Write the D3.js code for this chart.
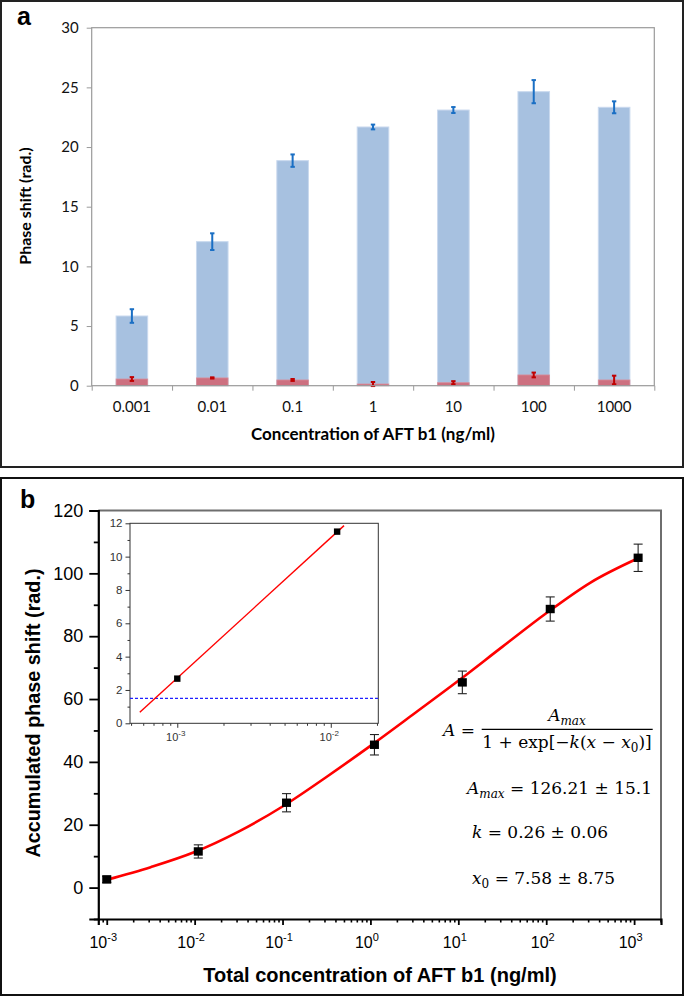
<!DOCTYPE html>
<html><head><meta charset="utf-8">
<script src="https://cdn.jsdelivr.net/npm/d3@7"></script>
<style>body{margin:0;background:#fff}svg{display:block}</style>
</head><body><svg id="c" width="685" height="997"></svg>
<script>
// ---------- Panel a data ----------
const concLabels = ["0.001","0.01","0.1","1","10","100","1000"];
const blueValues = [5.84, 12.07, 18.86, 21.68, 23.1, 24.64, 23.33];
const blueErrors = [0.57, 0.7, 0.52, 0.2, 0.25, 0.97, 0.5];
const redValues  = [0.56, 0.65, 0.48, 0.14, 0.25, 0.9, 0.48];
const redErrors  = [0.16, 0.05, 0.08, 0.17, 0.13, 0.2, 0.36];
const aYTicks = [0,5,10,15,20,25,30];

// ---------- Panel b data ----------
const totalConc  = [0.001, 0.011, 0.111, 1.111, 11.11, 111.1, 1111.1];
const accumShift = [2.6, 11.5, 27.0, 45.45, 65.3, 88.65, 104.95];
const accumErr   = [1.0, 2.1, 2.9, 3.25, 3.6, 3.85, 4.35];
const fitConc  = [0.001, 0.00316, 0.01, 0.0316, 0.1, 0.316, 1, 3.16, 10, 31.6, 100, 316, 1110];
const fitShift = [2.5, 6.5, 11.3, 17.8, 25.8, 35.2, 45.1, 55.4, 65.8, 76.6, 87.3, 97.0, 104.8];
const bYTicks = [0,20,40,60,80,100,120];
const bXTicks = [1e-3,1e-2,1e-1,1,10,100,1000];
const bXExp   = ["-3","-2","-1","0","1","2","3"];

// ---------- Inset data ----------
const insetConc  = [0.001, 0.011];
const insetShift = [2.68, 11.5];
const insetLineConc  = [0.00057, 0.0122];
const insetLineShift = [0.66, 11.86];
const insetThreshold = 1.5;
const insetYTicks = [0,2,4,6,8,10,12];
const insetXTicks = [1e-3, 1e-2];
const insetXExp = ["-3","-2"];

const svg = d3.select("#c");

// panel borders
svg.append("rect").attr("x",1).attr("y",1).attr("width",682).attr("height",466)
  .attr("fill","none").attr("stroke","#222").attr("stroke-width",2);
svg.append("rect").attr("x",1).attr("y",478).attr("width",682).attr("height",517)
  .attr("fill","none").attr("stroke","#111").attr("stroke-width",2);

// ================= PANEL A =================
const fa = "Lato, 'Open Sans', sans-serif";
const aL = 91.7, aR = 654.3, aT = 27.7, aB = 385.7;
const xA = d3.scaleBand().domain(concLabels).range([aL,aR]).paddingInner(0.607).paddingOuter(0.3035);
const yA = d3.scaleLinear().domain([0,30]).range([aB,aT]);
const gA = svg.append("g");

// y axis
const yAxA = gA.append("g").attr("transform",`translate(${aL},0)`)
  .call(d3.axisLeft(yA).tickValues(aYTicks).tickSize(5).tickPadding(8));
yAxA.select(".domain").remove();
yAxA.selectAll("line").attr("stroke","#9a9a9a");
yAxA.selectAll("text").attr("font-family",fa).attr("font-size",15).attr("fill","#111");

// category boundary ticks
const xBound = d3.scaleLinear().domain([0,7]).range([aL,aR]);
const xbAx = gA.append("g").attr("transform",`translate(0,${aB})`)
  .call(d3.axisBottom(xBound).tickValues(d3.range(8)).tickSize(5).tickFormat(""));
xbAx.select(".domain").remove();
xbAx.selectAll("line").attr("stroke","#9a9a9a");

// bars
const blueData = concLabels.map((c,i)=>({c, v:blueValues[i], e:blueErrors[i]}));
const redData  = concLabels.map((c,i)=>({c, v:redValues[i],  e:redErrors[i]}));
gA.selectAll(".bb").data(blueData).join("rect")
  .attr("x",d=>xA(d.c)).attr("width",xA.bandwidth())
  .attr("y",d=>yA(d.v)).attr("height",d=>aB-yA(d.v))
  .attr("fill","#a7c1e0").attr("stroke","#c9d9ee").attr("stroke-width",1);
gA.selectAll(".rb").data(redData).join("rect")
  .attr("x",d=>xA(d.c)).attr("width",xA.bandwidth())
  .attr("y",d=>yA(d.v)).attr("height",d=>aB-yA(d.v))
  .attr("fill","#cd7080").attr("stroke","#d98d99").attr("stroke-width",0.8);

function errBars(g, data, xf, yf, col, cap, sw){
  const eg = g.append("g").attr("stroke",col).attr("stroke-width",sw);
  data.forEach(d=>{
    const x = xf(d), y1 = yf(d.v + d.e), y0 = yf(d.v - d.e);
    eg.append("line").attr("x1",x).attr("x2",x).attr("y1",y1).attr("y2",y0);
    eg.append("line").attr("x1",x-cap).attr("x2",x+cap).attr("y1",y1).attr("y2",y1);
    eg.append("line").attr("x1",x-cap).attr("x2",x+cap).attr("y1",y0).attr("y2",y0);
  });
}
const bandC = d=>xA(d.c)+xA.bandwidth()/2;
errBars(gA, blueData, bandC, yA, "#1a6fc4", 2.2, 2);
errBars(gA, redData, bandC, yA, "#c00000", 2.2, 2);

// frame
gA.append("rect").attr("x",aL).attr("y",aT).attr("width",aR-aL).attr("height",aB-aT)
  .attr("fill","none").attr("stroke","#9a9a9a").attr("stroke-width",1.2);

// x labels
const xLabA = gA.append("g").attr("transform",`translate(0,${aB})`)
  .call(d3.axisBottom(xA).tickSize(0).tickPadding(16));
xLabA.select(".domain").remove();
xLabA.selectAll("text").attr("font-family",fa).attr("font-size",15).attr("fill","#111");

gA.append("text").attr("x",373).attr("y",440).attr("text-anchor","middle")
  .attr("font-family",fa).attr("font-weight","bold").attr("font-size",17)
  .text("Concentration of AFT b1 (ng/ml)");
gA.append("text").attr("transform","translate(31,206) rotate(-90)").attr("text-anchor","middle")
  .attr("font-family",fa).attr("font-weight","bold").attr("font-size",16)
  .text("Phase shift (rad.)");
svg.append("text").attr("x",17).attr("y",25).attr("font-family","'Liberation Sans', Arial, sans-serif")
  .attr("font-weight","bold").attr("font-size",25).text("a");

// ================= PANEL B =================
const fb = "'Liberation Sans', Arial, sans-serif";
const bL = 98.3, bR = 661, bT = 510.5, bB = 919;
const xB = d3.scaleLog().domain([Math.pow(10,-3.096), Math.pow(10,3.306)]).range([bL,bR]);
const yB = d3.scaleLinear().domain([-10,120]).range([bB,bT]);
const gB = svg.append("g");
svg.append("text").attr("x",20).attr("y",508).attr("font-family",fb)
  .attr("font-weight","bold").attr("font-size",25).text("b");

// top/right frame
gB.append("path").attr("d",`M${bL},${bT}H${bR}V${bB}`).attr("fill","none")
  .attr("stroke","#6e6e6e").attr("stroke-width",2);

// minor x ticks
const [dx0,dx1] = xB.domain();
const minorX = [];
for(let e=-4;e<=3;e++) for(let m=2;m<=9;m++){ const v=m*Math.pow(10,e); if(v>=dx0*0.999 && v<=dx1) minorX.push(v); }
const mxAx = gB.append("g").attr("transform",`translate(0,${bB})`)
  .call(d3.axisBottom(xB).tickValues(minorX).tickSize(3.5).tickFormat(""));
mxAx.select(".domain").remove();
mxAx.selectAll("line").attr("stroke","#000").attr("stroke-width",1.6);

// major x
const xAxB = gB.append("g").attr("transform",`translate(0,${bB})`)
  .call(d3.axisBottom(xB).tickValues(bXTicks).tickSize(6).tickFormat(""));
xAxB.select(".domain").attr("stroke","#000").attr("stroke-width",2.2);
xAxB.selectAll("line").attr("stroke","#000").attr("stroke-width",1.8);
xAxB.selectAll(".tick").each(function(d,i){
  const t = d3.select(this).append("text").attr("y",29).attr("x",-4).attr("text-anchor","middle")
    .attr("font-family",fb).attr("font-size",16).attr("fill","#000");
  t.append("tspan").text("10");
  t.append("tspan").attr("dy",-7).attr("font-size",11).text(bXExp[i]);
});

// minor y
const minorY = d3.range(-10,121,10).filter(v=>v%20!==0);
const myAx = gB.append("g").attr("transform",`translate(${bL},0)`)
  .call(d3.axisLeft(yB).tickValues(minorY).tickSize(4.5).tickFormat(""));
myAx.select(".domain").remove();
myAx.selectAll("line").attr("stroke","#000").attr("stroke-width",1.8);
const yAxB = gB.append("g").attr("transform",`translate(${bL},0)`)
  .call(d3.axisLeft(yB).tickValues(bYTicks).tickSize(9).tickPadding(6));
yAxB.select(".domain").attr("stroke","#000").attr("stroke-width",2.2);
yAxB.selectAll("line").attr("stroke","#000").attr("stroke-width",1.8);
yAxB.selectAll("text").attr("font-family",fb).attr("font-size",18).attr("fill","#000");

// fit curve
const fitData = fitConc.map((c,i)=>[c,fitShift[i]]);
gB.append("path").datum(fitData)
  .attr("d",d3.line().x(d=>xB(d[0])).y(d=>yB(d[1])).curve(d3.curveMonotoneX))
  .attr("fill","none").attr("stroke","#ff0000").attr("stroke-width",2.6);

// error bars + markers
const ptData = totalConc.map((c,i)=>({c, v:accumShift[i], e:accumErr[i]}));
errBars(gB, ptData, d=>xB(d.c), yB, "#222", 4.5, 1.1);
gB.selectAll(".pt").data(ptData).join("rect")
  .attr("x",d=>xB(d.c)-4.5).attr("y",d=>yB(d.v)-4.2).attr("width",9).attr("height",8.4)
  .attr("fill","#000");

gB.append("text").attr("x",380).attr("y",982).attr("text-anchor","middle")
  .attr("font-family",fb).attr("font-weight","bold").attr("font-size",20)
  .text("Total concentration of AFT b1 (ng/ml)");
gB.append("text").attr("transform","translate(40,713) rotate(-90)").attr("text-anchor","middle")
  .attr("font-family",fb).attr("font-weight","bold").attr("font-size",19.8)
  .text("Accumulated phase shift (rad.)");

// equation
const fe = "'DejaVu Serif', 'Liberation Serif', serif";
const eq = gB.append("g").attr("font-family",fe).attr("font-size",17).attr("fill","#000");
const t0 = eq.append("text").attr("x",443).attr("y",736);
t0.append("tspan").attr("font-style","italic").text("A");
t0.append("tspan").text(" =");
eq.append("line").attr("x1",481.7).attr("x2",652.7).attr("y1",729.3).attr("y2",729.3)
  .attr("stroke","#000").attr("stroke-width",1.2);
const tn = eq.append("text").attr("x",567).attr("y",721).attr("text-anchor","middle");
tn.append("tspan").attr("font-style","italic").text("A");
tn.append("tspan").attr("font-style","italic").attr("font-size",12).attr("dy",4).text("max");
const td = eq.append("text").attr("x",567).attr("y",748).attr("text-anchor","middle");
td.append("tspan").text("1 + exp[\u2212");
td.append("tspan").attr("font-style","italic").text("k");
td.append("tspan").text("(");
td.append("tspan").attr("font-style","italic").text("x");
td.append("tspan").text(" \u2212 ");
td.append("tspan").attr("font-style","italic").text("x");
td.append("tspan").attr("font-size",12).attr("dy",4).text("0");
td.append("tspan").attr("dy",-4).text(")]");

const l2 = eq.append("text").attr("x",467).attr("y",794);
l2.append("tspan").attr("font-style","italic").text("A");
l2.append("tspan").attr("font-style","italic").attr("font-size",12).attr("dy",4).text("max");
l2.append("tspan").attr("dy",-4).text(" = 126.21 \u00b1 15.1");
const l3 = eq.append("text").attr("x",472).attr("y",838);
l3.append("tspan").attr("font-style","italic").text("k");
l3.append("tspan").text(" = 0.26 \u00b1 0.06");
const l4 = eq.append("text").attr("x",472).attr("y",884);
l4.append("tspan").attr("font-style","italic").text("x");
l4.append("tspan").attr("font-size",12).attr("dy",4).text("0");
l4.append("tspan").attr("dy",-4).text(" = 7.58 \u00b1 8.75");

// ================= INSET =================
const iL = 130, iR = 378.3, iT = 523.3, iB = 723.3;
const xI = d3.scaleLog().domain([0.000492, 0.0204]).range([iL,iR]);
const yI = d3.scaleLinear().domain([0,12]).range([iB,iT]);
const gI = svg.append("g");
gI.append("rect").attr("x",iL).attr("y",iT).attr("width",iR-iL).attr("height",iB-iT)
  .attr("fill","#fff").attr("stroke","#333").attr("stroke-width",1);

const minorIX = [];
for(let e=-4;e<=-2;e++) for(let m=2;m<=9;m++){ const v=m*Math.pow(10,e); if(v>=0.000492 && v<=0.0204) minorIX.push(v); }
const miAx = gI.append("g").attr("transform",`translate(0,${iB})`)
  .call(d3.axisBottom(xI).tickValues(minorIX).tickSize(2.5).tickFormat(""));
miAx.select(".domain").remove();
miAx.selectAll("line").attr("stroke","#333");
const ixAx = gI.append("g").attr("transform",`translate(0,${iB})`)
  .call(d3.axisBottom(xI).tickValues(insetXTicks).tickSize(4.5).tickFormat(""));
ixAx.select(".domain").remove();
ixAx.selectAll("line").attr("stroke","#333");
ixAx.selectAll(".tick").each(function(d,i){
  const t = d3.select(this).append("text").attr("y",18).attr("x",-2).attr("text-anchor","middle")
    .attr("font-family",fb).attr("font-size",11).attr("fill","#333");
  t.append("tspan").text("10");
  t.append("tspan").attr("dy",-5).attr("font-size",8).text(insetXExp[i]);
});
const minorIY = d3.range(1,12,2);
const miyAx = gI.append("g").attr("transform",`translate(${iL},0)`)
  .call(d3.axisLeft(yI).tickValues(minorIY).tickSize(2.5).tickFormat(""));
miyAx.select(".domain").remove();
miyAx.selectAll("line").attr("stroke","#333");
const iyAx = gI.append("g").attr("transform",`translate(${iL},0)`)
  .call(d3.axisLeft(yI).tickValues(insetYTicks).tickSize(4.5).tickPadding(3));
iyAx.select(".domain").remove();
iyAx.selectAll("line").attr("stroke","#333");
iyAx.selectAll("text").attr("font-family",fb).attr("font-size",11.5).attr("fill","#333");

gI.append("line").attr("x1",iL).attr("x2",iR).attr("y1",yI(insetThreshold)).attr("y2",yI(insetThreshold))
  .attr("stroke","#2020ff").attr("stroke-width",1.2).attr("stroke-dasharray","3,2");
const lineData = insetLineConc.map((c,i)=>[c,insetLineShift[i]]);
gI.append("path").datum(lineData)
  .attr("d",d3.line().x(d=>xI(d[0])).y(d=>yI(d[1])))
  .attr("fill","none").attr("stroke","#ff0000").attr("stroke-width",1.4);
gI.selectAll(".ip").data(insetConc.map((c,i)=>[c,insetShift[i]])).join("rect")
  .attr("x",d=>xI(d[0])-3.2).attr("y",d=>yI(d[1])-3.2).attr("width",6.4).attr("height",6.4)
  .attr("fill","#000");
</script></body></html>
